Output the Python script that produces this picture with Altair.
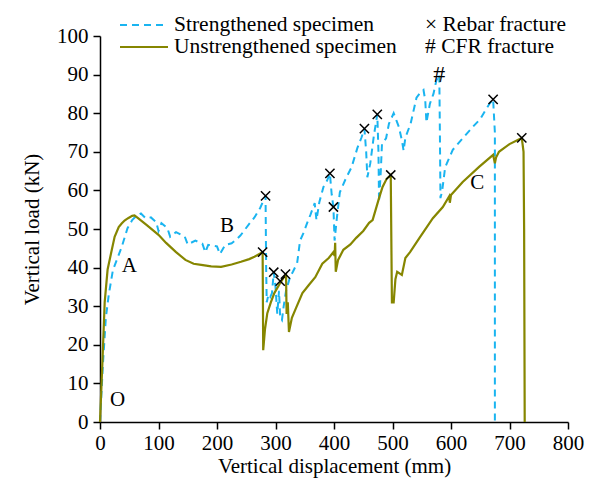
import altair as alt
import pandas as pd

# ---- data ----
s_x = [0, 5, 10, 15, 22, 30, 37, 47, 55, 62, 70, 78, 87, 96, 100, 105, 115, 120, 130, 145, 150, 163,
       175, 180, 185, 200, 205, 214, 225, 231, 240, 247, 256, 264, 274, 283,
       284, 285, 288, 291, 294, 297, 300, 303, 306, 308, 311, 314, 318, 325, 330, 337, 342, 348,
       354, 360, 367, 370, 375, 382, 388, 393, 396, 399, 401, 405, 410, 420, 430, 440, 447, 452,
       455, 457, 462, 468, 474, 476, 477, 480, 482, 489, 494, 502, 507, 511, 516, 519, 522, 531,
       541, 547, 553, 556, 558, 564, 570, 575, 580, 581, 582, 585, 590, 603, 620, 637, 650, 659,
       666, 672, 675, 675]
s_y = [0, 15, 27, 33, 39.3, 42.5, 45.3, 50.2, 52.3, 53.4, 54, 52.8, 53, 51.8, 49.5, 51.5, 50.3, 48, 49.2, 48, 46, 47,
       46.2, 44, 45.9, 45.5, 43.5, 45.9, 46.3, 47, 48.3, 49.7, 51.5, 53, 55.5, 58.6,
       40, 31, 33, 32.4, 33.4, 38.8, 35, 28, 34, 27, 26.4, 30, 34, 37.6, 39, 41.2, 47, 49,
       51.5, 53.8, 56.7, 52.3, 57, 60.9, 62.5, 64.4, 59, 55.7, 47, 53, 59.5, 63, 66, 71, 73.7, 76,
       70, 63.4, 67, 74, 79.7, 70, 57, 65, 72, 73.5, 77.3, 80, 78, 76.4, 73, 70.3, 73.7, 77.3,
       84, 85.2, 86, 83.3, 77.6, 82.5, 85, 88.5, 90, 75, 58, 60, 66, 70.5, 73.5, 76.4, 78.5, 80.8,
       82.5, 83.6, 75, 0]

u_x = [0, 4, 8, 13, 20, 25, 32, 37, 42, 48, 55, 59, 65, 80, 100, 113, 130, 146, 160, 173, 190, 207,
       225, 241, 255, 264, 278, 279, 282, 286, 292, 298, 308, 313, 318, 319, 321, 323, 328, 335,
       346, 357, 368, 380, 391, 399, 401, 402, 403, 407, 416, 428, 438, 450, 460, 466, 471, 477,
       483, 490, 497, 499, 502, 505, 508, 512, 516, 522, 530, 547, 569, 586, 597, 598, 600, 620,
       648, 672, 675, 677, 682, 700, 721, 724, 725, 726]
u_y = [0, 15, 31, 39.5, 44.5, 48, 50.5, 51.4, 52.2, 52.8, 53.4, 53.5, 52.8, 51, 48.5, 46.4, 44, 42, 41, 40.7, 40.3, 40.2,
       40.8, 41.5, 42.2, 42.8, 44, 18.6, 24, 28.2, 31, 33.4, 36, 37.2, 38.2, 28, 31, 23.3, 27, 29.5,
       33.4, 35.5, 37.5, 41, 42.5, 44, 43, 46.4, 38.9, 42, 44.6, 46, 47.7, 49.5, 51.6, 52.3, 54.9, 58,
       60.9, 63, 64, 31, 31, 37, 38.9, 38.5, 38.1, 42.5, 44, 47.9, 52.8, 55.7, 58.5, 56.8, 58.8, 62.2,
       66.1, 69.2, 67, 68.5, 70, 72, 73.6, 70, 50, 0]

rebar_x = [283, 297, 393, 399, 452, 474, 672, 278, 308, 317, 497, 721]
rebar_y = [58.6, 38.8, 64.4, 55.7, 76, 79.7, 83.6, 44, 36.5, 38.3, 64, 73.6]
cfr_x = [580]
cfr_y = [90]

label_text = ["O", "A", "B", "C"]
label_x = [30, 50, 217, 645]
label_y = [5.7, 40.4, 50.7, 62]

x_ticks = list(range(0, 801, 100))
y_ticks = list(range(0, 101, 10))

FONT = "Liberation Serif"
BLUE = "#1AB4F0"
OLIVE = "#868600"

s_df = pd.DataFrame({"x": s_x, "y": s_y, "i": range(len(s_x))})
u_df = pd.DataFrame({"x": u_x, "y": u_y, "i": range(len(u_x))})
r_df = pd.DataFrame({"x": rebar_x, "y": rebar_y})
c_df = pd.DataFrame({"x": cfr_x, "y": cfr_y})
l_df = pd.DataFrame({"x": label_x, "y": label_y, "t": label_text})

common_axis = dict(grid=False, tickSize=7, labelFont=FONT, titleFont=FONT,
                   labelFontSize=21, titleFontSize=21, labelColor="black", titleColor="black",
                   titleFontWeight="normal", domainColor="black", tickColor="black",
                   domainWidth=1.5, tickWidth=1.5, labelOverlap=False, labelFlush=False,
                   labelBound=False)
xs = alt.Scale(domain=[0, 800], nice=False)
ys = alt.Scale(domain=[0, 100], nice=False)
xax = alt.Axis(values=x_ticks, title="Vertical displacement (mm)",
               labelPadding=3, titlePadding=2, **common_axis)
yax = alt.Axis(values=y_ticks, title="Vertical load (kN)",
               labelPadding=5, titlePadding=14, **common_axis)
X = alt.X("x:Q", scale=xs, axis=xax)
Y = alt.Y("y:Q", scale=ys, axis=yax)

strong = alt.Chart(s_df).mark_line(color=BLUE, strokeWidth=2, strokeDash=[7, 5]).encode(
    x=X, y=Y, order="i:Q")
weak = alt.Chart(u_df).mark_line(color=OLIVE, strokeWidth=2.2).encode(
    x=X, y=Y, order="i:Q")
xmarks = alt.Chart(r_df).mark_point(
    shape="M-1,-1L1,1M-1,1L1,-1", filled=False, color="black", strokeWidth=1.5, size=85, opacity=1
).encode(x=X, y=Y)
hmarks = alt.Chart(c_df).mark_text(text="#", font=FONT, fontSize=24, color="black",
                                   baseline="middle", align="center").encode(x=X, y=Y)
labels = alt.Chart(l_df).mark_text(font=FONT, fontSize=21, color="black",
                                   baseline="middle", align="center").encode(
    x=X, y=Y, text="t:N")

one = pd.DataFrame({"a": [0]})
leg_blue = alt.Chart(one).mark_rule(color=BLUE, strokeWidth=2, strokeDash=[7, 5]).encode(
    x=alt.value(20), x2=alt.value(68), y=alt.value(-11))
leg_olive = alt.Chart(one).mark_rule(color=OLIVE, strokeWidth=2.2).encode(
    x=alt.value(20), x2=alt.value(68), y=alt.value(11))
def ltext(t, x, y):
    return alt.Chart(one).mark_text(text=t, font=FONT, fontSize=21.5, color="black",
                                    align="left", baseline="middle").encode(
        x=alt.value(x), y=alt.value(y))

chart = alt.layer(
    strong, weak, xmarks, hmarks, labels, leg_blue, leg_olive,
    ltext("Strengthened specimen", 74, -11),
    ltext("Unstrengthened specimen", 74, 11),
    ltext("× Rebar fracture", 325, -11),
    ltext("# CFR fracture", 325, 11),
).properties(
    width=468, height=386,
    autosize=alt.AutoSizeParams(type="none"),
    padding={"left": 92, "top": 28, "right": 18, "bottom": 58},
).configure_view(stroke=None)

chart.save("out.html", embed_options={"renderer": "svg", "actions": False})
